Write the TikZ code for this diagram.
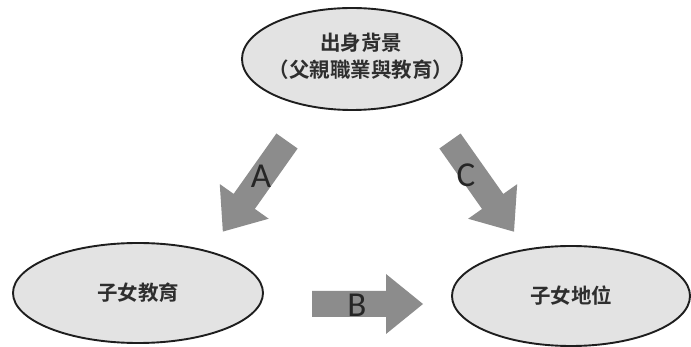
\documentclass[tikz,border=0pt]{standalone}
\usepackage{fontspec}
\newfontfamily\cjk{Noto Sans CJK TC}[BoldFont={Noto Sans CJK TC Bold}]
\newfontfamily\latin{Carlito}
\usetikzlibrary{shapes.geometric}
\definecolor{ellfill}{HTML}{E3E3E3}
\definecolor{ellline}{HTML}{1E1E1E}
\definecolor{arrgray}{HTML}{8C8C8C}
\definecolor{txtgray}{HTML}{2E2E2E}
\definecolor{lettercol}{HTML}{262626}
\tikzset{
  oval/.style={ellipse, draw=ellline, fill=ellfill, line width=1.9pt, inner sep=0pt},
  cjktext/.style={font=\cjk\bfseries\fontsize{20.5}{27}\selectfont, text=txtgray, align=center, inner sep=0pt},
  letter/.style={font=\latin\fontsize{35}{35}\selectfont, text=lettercol, inner sep=0pt},
  blockarrow/.pic={\fill[arrgray] (0,-13) -- (74,-13) -- (74,-30) -- (111,0) -- (74,30) -- (74,13) -- (0,13) -- cycle;}
}
\begin{document}
\begin{tikzpicture}[x=1pt,y=-1pt]
\useasboundingbox (0,0) rectangle (691,347);
\fill[white] (0,0) rectangle (691,347);
% ellipses
\node[oval, minimum width=220pt, minimum height=102pt] (top) at (352,59) {};
\node[cjktext] (toptext) at (361,56) {出身背景\\（父親職業與教育）};
\node[oval, minimum width=250pt, minimum height=100pt, cjktext] (left) at (138,293) {子女教育};
\node[oval, minimum width=238pt, minimum height=100pt, cjktext] (right) at (571,296) {子女地位};
% arrows
\coordinate (tailA) at (287,141);
\coordinate (tailB) at (312,304);
\coordinate (tailC) at (450,141);
\pic[rotate=-125.3] at (tailA) {blockarrow};
\pic at (tailB) {blockarrow};
\pic[rotate=-54.8] at (tailC) {blockarrow};
\node[letter] (labA) at (261,176) {A};
\node[letter] (labB) at (357,305) {B};
\node[letter] (labC) at (466,175) {C};
\end{tikzpicture}
\end{document}
